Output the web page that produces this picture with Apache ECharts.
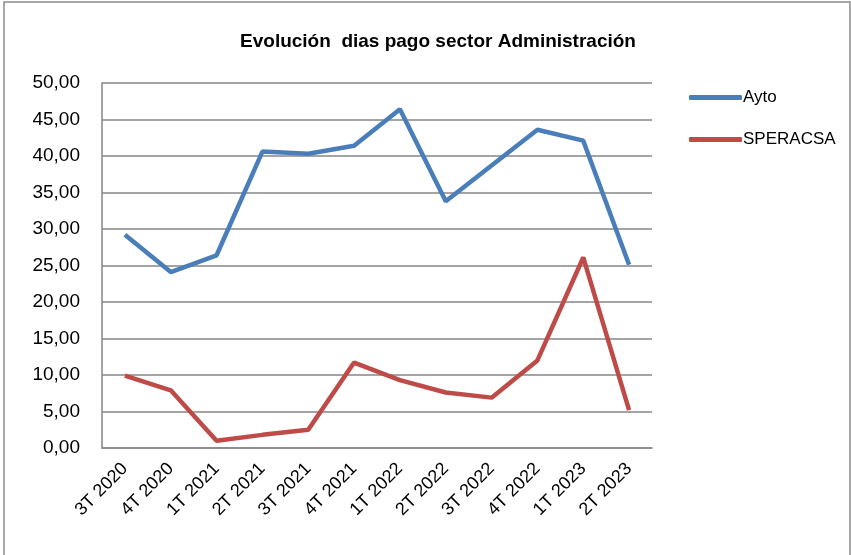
<!DOCTYPE html>
<html>
<head>
<meta charset="utf-8">
<script src="https://cdn.jsdelivr.net/npm/echarts@6/dist/echarts.min.js"></script>
<style>
  html, body { margin: 0; padding: 0; background: #fff; }
  #chart { width: 851px; height: 555px; }
</style>
</head>
<body>
<div id="chart"></div>
<script>
// trimestres
const categories = ['3T 2020', '4T 2020', '1T 2021', '2T 2021', '3T 2021', '4T 2021',
  '1T 2022', '2T 2022', '3T 2022', '4T 2022', '1T 2023', '2T 2023']
const aytoData = [29.2, 24.1, 26.4, 40.6, 40.3, 41.4, 46.4, 33.8, 38.7, 43.6, 42.1, 25.1]
const speracsaData = [9.9, 7.9, 1.0, 1.8, 2.5, 11.7, 9.3, 7.6, 6.9, 12.0, 26.1, 5.2]
const yMin = 0
const yMax = 50
const yStep = 5

const font = 'Liberation Sans'
const chart = echarts.init(document.getElementById('chart'))

chart.setOption({
  animation: false,
  title: {
    text: 'Evolución  dias pago sector Administración',
    left: 433,
    top: 27,
    textAlign: 'center',
    textStyle: { fontFamily: font, fontSize: 19, fontWeight: 'bold', color: '#000' }
  },
  graphic: [{
    type: 'rect',
    shape: { x: 4, y: 2, width: 846, height: 560 },
    style: { fill: 'none', stroke: '#8c8c8c', lineWidth: 1.5 },
    silent: true
  }],
  legend: {
    orient: 'vertical',
    left: 684,
    top: 84,
    itemWidth: 53,
    itemHeight: 5,
    itemGap: 25,
    icon: 'roundRect',
    textStyle: { fontFamily: font, fontSize: 17, color: '#000', padding: [0, 0, 0, -4] },
    data: ['Ayto', 'SPERACSA']
  },
  grid: { left: 102, right: 199, top: 83, bottom: 107 },
  xAxis: {
    type: 'category',
    data: categories,
    boundaryGap: true,
    axisLine: { lineStyle: { color: '#868686', width: 1.5 } },
    axisTick: { show: false },
    axisLabel: {
      rotate: 45,
      interval: 0,
      margin: 18,
      fontFamily: font,
      fontSize: 18,
      color: '#000'
    }
  },
  yAxis: {
    type: 'value',
    min: yMin,
    max: yMax,
    interval: yStep,
    axisLine: { show: true, lineStyle: { color: '#868686', width: 1.5 } },
    axisTick: { show: false },
    splitLine: { lineStyle: { color: '#868686', width: 1.5 } },
    axisLabel: {
      margin: 22,
      fontFamily: font,
      fontSize: 19,
      color: '#000',
      formatter: v => v.toFixed(2).replace('.', ',')
    }
  },
  series: [
    {
      name: 'Ayto',
      type: 'line',
      data: aytoData,
      showSymbol: false,
      symbol: 'none',
      itemStyle: { color: '#4a7ebb' },
      lineStyle: { color: '#4a7ebb', width: 4.5 }
    },
    {
      name: 'SPERACSA',
      type: 'line',
      data: speracsaData,
      showSymbol: false,
      symbol: 'none',
      itemStyle: { color: '#be4b48' },
      lineStyle: { color: '#be4b48', width: 4.5 }
    }
  ]
})
</script>
</body>
</html>
